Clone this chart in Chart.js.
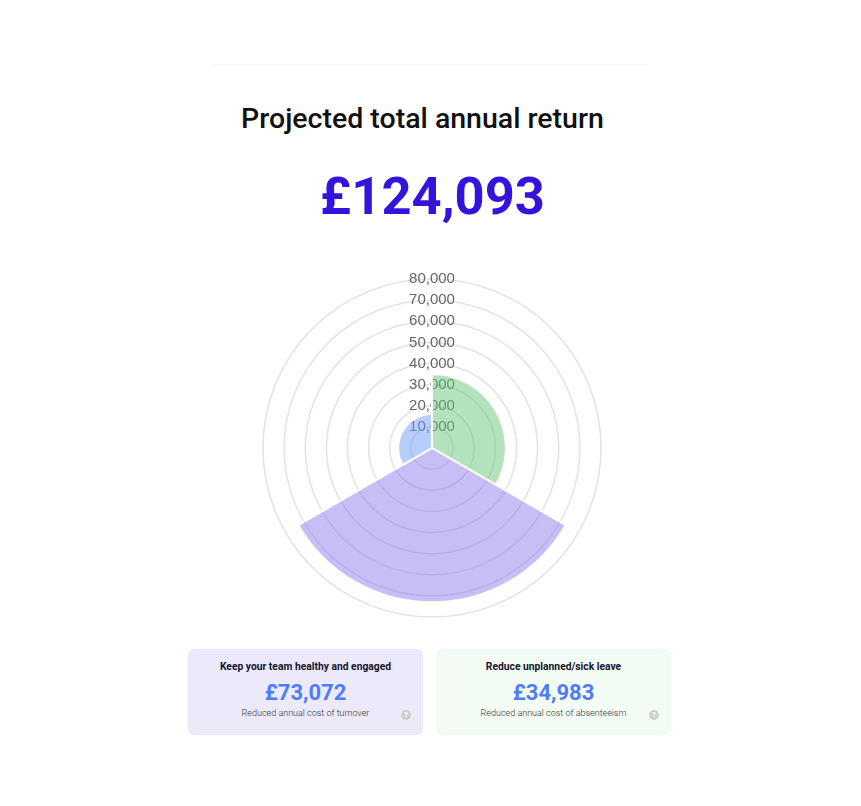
<!DOCTYPE html>
<html>
<head>
<meta charset="utf-8">
<script src="https://cdn.jsdelivr.net/npm/chart.js@4"></script>
<style>
  html, body { margin: 0; padding: 0; background: #fff; }
  body { width: 861px; height: 806px; position: relative; font-family: Roboto, "Noto Sans", sans-serif; overflow: hidden; }
  .rule { position: absolute; left: 213px; top: 64px; width: 435px; height: 1px; background: #f8f8f8; }
  h1 { position: absolute; left: 0; width: 845px; top: 102px; margin: 0; text-align: center; font-size: 28.5px; font-weight: 500; color: #111; }
  .total { position: absolute; left: 0; width: 865px; top: 165px; text-align: center; font-size: 52.5px; font-weight: 700; color: #3513dc; }
  #wrap { position: absolute; left: 253px; top: 269px; width: 358px; height: 358px; }
  .card { position: absolute; top: 649px; width: 235px; height: 86px; border-radius: 6px; text-align: center; }
  .card .t { margin-top: 11px; font-size: 10.3px; font-weight: 700; color: #14142b; }
  .card .v { margin-top: 7px; font-size: 22px; font-weight: 700; color: #4f7df7; }
  .card .s { margin-top: 3px; font-size: 9px; font-weight: 300; color: #333; }
  .card .q { position: absolute; right: 12px; top: 61px; width: 10px; height: 10px; border-radius: 50%; background: #cfcfcf; color: #fff; font-size: 7px; line-height: 10px; text-align: center; font-weight: 700; }
</style>
</head>
<body>
<div class="rule"></div>
<h1>Projected total annual return</h1>
<div class="total" id="total"></div>
<div id="wrap"><canvas id="polar"></canvas></div>
<div class="card" style="left:188px;background:#ece9fb">
  <div class="t">Keep your team healthy and engaged</div>
  <div class="v" id="v0"></div>
  <div class="s">Reduced annual cost of turnover</div>
  <div class="q">?</div>
</div>
<div class="card" style="left:436px;background:#f2fcf4">
  <div class="t">Reduce unplanned/sick leave</div>
  <div class="v" id="v1"></div>
  <div class="s">Reduced annual cost of absenteeism</div>
  <div class="q">?</div>
</div>
<script>
  // segment order goes clockwise from the top
  const categories = ['Absenteeism', 'Turnover', 'Other'];
  const savings = [34983, 73072, 16038];
  const segmentColours = ['rgba(101,199,121,0.5)', 'rgba(141,125,235,0.5)', 'rgba(113,157,245,0.5)'];
  const tickMax = 80000;
  const tickStep = 10000;

  const fmt = n => n.toLocaleString('en-GB');
  const total = savings.reduce((a, b) => a + b, 0);
  document.getElementById('total').textContent = '£' + fmt(total);
  document.getElementById('v0').textContent = '£' + fmt(savings[1]);
  document.getElementById('v1').textContent = '£' + fmt(savings[0]);

  const ctx = document.getElementById('polar');
  new Chart(ctx, {
    type: 'polarArea',
    data: {
      labels: categories,
      datasets: [{
        data: savings,
        backgroundColor: segmentColours,
        borderColor: '#fff',
        borderWidth: 2,
      }],
    },
    options: {
      responsive: true,
      maintainAspectRatio: false,
      animation: false,
      plugins: {
        legend: { display: false },
        tooltip: { enabled: false },
      },
      scales: {
        r: {
          min: 0,
          max: tickMax,
          ticks: {
            stepSize: tickStep,
            showLabelBackdrop: false,
            color: '#666',
            font: { size: 15, family: "'Liberation Sans', Arial, sans-serif" },
            callback: v => v === 0 ? '' : fmt(v),
          },
          grid: { color: '#e3e3e3', lineWidth: 1.5 },
        },
      },
    },
  });
</script>
</body>
</html>
